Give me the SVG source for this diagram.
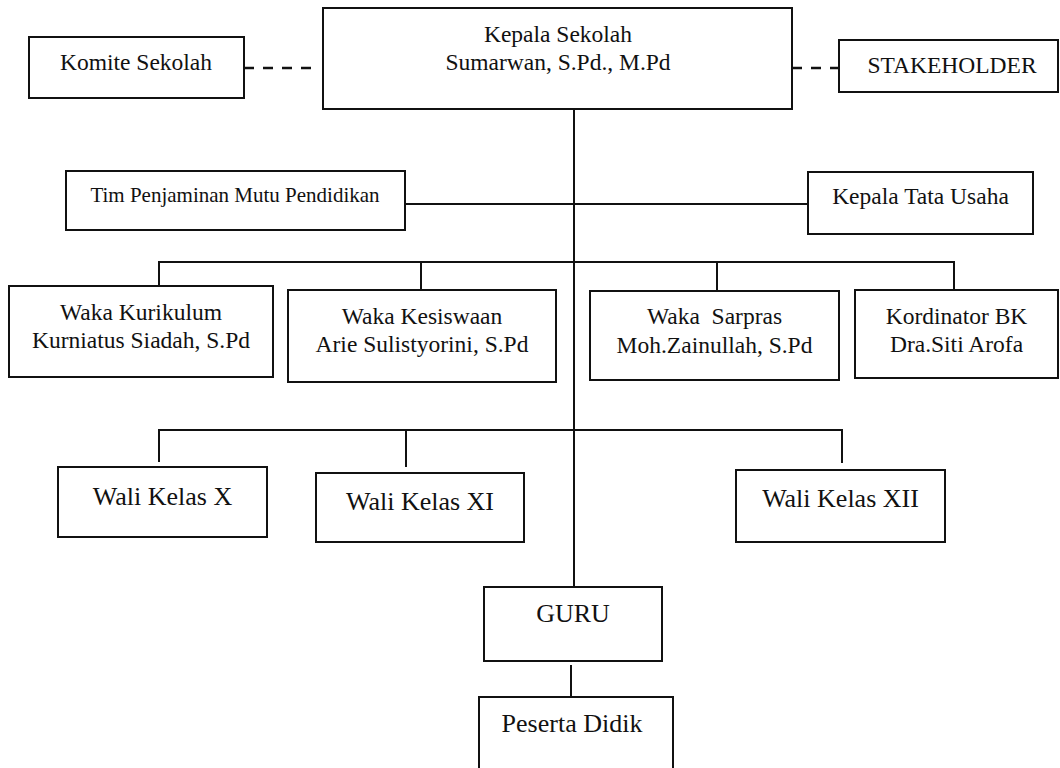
<svg xmlns="http://www.w3.org/2000/svg" width="1060" height="768" viewBox="0 0 1060 768">
<style>
.box{fill:#fff;stroke:#111;stroke-width:2}
.ln{stroke:#111;stroke-width:2;fill:none}
.dash{stroke:#111;stroke-width:2.5;fill:none;stroke-dasharray:10 9}
text{font-family:"Liberation Serif","Times New Roman",serif;fill:#111;text-anchor:middle}
.t{font-size:23.5px}
.s{font-size:21px}
.l{font-size:26px}
</style>
<rect width="1060" height="768" fill="#fff"/>
<g id="connectors">
<path class="dash" d="M244 68H312"/>
<path class="dash" d="M792 68H839"/>
<path class="ln" d="M574 109V587"/>
<path class="ln" d="M405 204H808"/>
<path class="ln" d="M159 286V262H954V290"/>
<path class="ln" d="M421 262V290"/>
<path class="ln" d="M717 262V291"/>
<path class="ln" d="M159 462V430H842V463"/>
<path class="ln" d="M406 430V467"/>
<path class="ln" d="M571 665V697"/>
</g>
<g id="kepala-sekolah"><rect class="box" x="323" y="8" width="469" height="101"/><text class="t" x="558" y="42">Kepala Sekolah</text><text class="t" x="558" y="70">Sumarwan, S.Pd., M.Pd</text></g>
<g id="komite-sekolah"><rect class="box" x="29" y="37" width="215" height="61"/><text class="t" x="136" y="70">Komite Sekolah</text></g>
<g id="stakeholder"><rect class="box" x="839" y="40" width="219" height="52"/><text class="t" x="952" y="73">STAKEHOLDER</text></g>
<g id="tim-penjaminan-mutu"><rect class="box" x="66" y="171" width="339" height="59"/><text class="s" x="235" y="202">Tim Penjaminan Mutu Pendidikan</text></g>
<g id="kepala-tata-usaha"><rect class="box" x="808" y="172" width="225" height="62"/><text class="t" x="920.5" y="204">Kepala Tata Usaha</text></g>
<g id="waka-kurikulum"><rect class="box" x="9" y="286" width="264" height="91"/><text class="t" x="141" y="320">Waka Kurikulum</text><text class="t" x="141" y="348">Kurniatus Siadah, S.Pd</text></g>
<g id="waka-kesiswaan"><rect class="box" x="288" y="290" width="268" height="92"/><text class="t" x="422" y="324">Waka Kesiswaan</text><text class="t" x="422" y="352">Arie Sulistyorini, S.Pd</text></g>
<g id="waka-sarpras"><rect class="box" x="590" y="291" width="249" height="89"/><text class="t" x="714.5" y="324" xml:space="preserve">Waka  Sarpras</text><text class="t" x="714.5" y="353">Moh.Zainullah, S.Pd</text></g>
<g id="kordinator-bk"><rect class="box" x="855" y="290" width="203" height="88"/><text class="t" x="956.5" y="324">Kordinator BK</text><text class="t" x="956.5" y="352">Dra.Siti Arofa</text></g>
<g id="wali-kelas-x"><rect class="box" x="58" y="467" width="209" height="70"/><text class="l" x="162.5" y="505">Wali Kelas X</text></g>
<g id="wali-kelas-xi"><rect class="box" x="316" y="473" width="208" height="69"/><text class="l" x="420" y="510">Wali Kelas XI</text></g>
<g id="wali-kelas-xii"><rect class="box" x="736" y="470" width="209" height="72"/><text class="l" x="840.5" y="507">Wali Kelas XII</text></g>
<g id="guru"><rect class="box" x="484" y="587" width="178" height="74"/><text class="l" x="573" y="622">GURU</text></g>
<g id="peserta-didik"><rect class="box" x="479" y="697" width="194" height="75"/><text class="l" x="572" y="732">Peserta Didik</text></g>
</svg>
